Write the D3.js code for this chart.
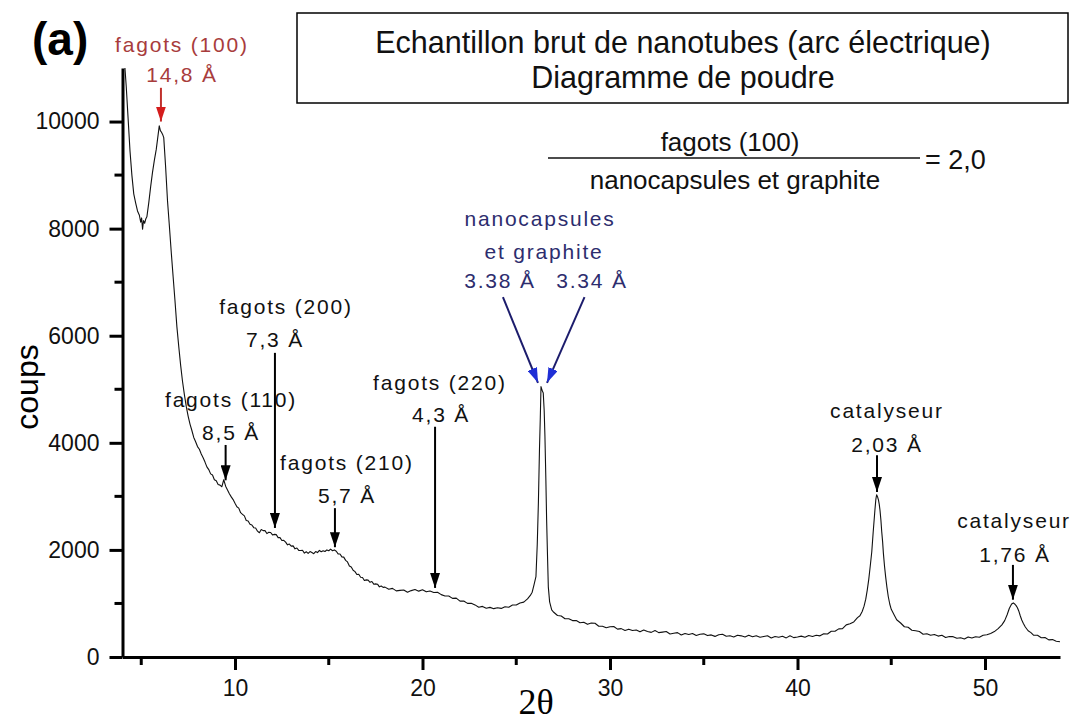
<!DOCTYPE html>
<html>
<head>
<meta charset="utf-8">
<script src="https://cdn.jsdelivr.net/npm/d3@7"></script>
<style>
  body { margin: 0; background: #fff; }
  svg { display: block; }
  text { font-family: "Liberation Sans", Arial, sans-serif; }
</style>
</head>
<body>
<div id="chart"></div>
<script>
// diffractogram (2theta in degrees, counts)
const twoTheta = [
  4.13, 4.2, 4.3, 4.4, 4.5, 4.6, 4.7, 4.8, 4.9, 4.97, 5.02, 5.07, 5.12, 5.18, 5.24, 5.3,
  5.4, 5.5, 5.6, 5.7, 5.8, 5.88, 5.96, 6.02, 6.08, 6.14, 6.2, 6.3, 6.4, 6.5, 6.6, 6.7,
  6.8, 6.9, 7.0, 7.1, 7.2, 7.3, 7.4, 7.5, 7.6, 7.7, 7.8, 7.9, 8.0, 8.1, 8.2, 8.3,
  8.4, 8.5, 8.6, 8.7, 8.8, 8.9, 9.0, 9.1, 9.2, 9.3, 9.4, 9.5, 9.6, 9.7, 9.8, 9.9,
  10.0, 10.1, 10.2, 10.3, 10.4, 10.5, 10.6, 10.7, 10.8, 10.9, 11.0, 11.1, 11.2, 11.3, 11.4, 11.5,
  11.6, 11.7, 11.8, 11.9, 12.0, 12.1, 12.2, 12.3, 12.4, 12.5, 12.6, 12.7, 12.8, 12.9, 13.0, 13.1,
  13.2, 13.3, 13.4, 13.5, 13.6, 13.7, 13.8, 13.9, 14.0, 14.1, 14.2, 14.3, 14.4, 14.5, 14.6, 14.7,
  14.8, 14.9, 15.0, 15.1, 15.2, 15.3, 15.4, 15.5, 15.6, 15.7, 15.8, 15.9, 16.0, 16.1, 16.2, 16.3,
  16.4, 16.5, 16.6, 16.7, 16.8, 16.9, 17.0, 17.1, 17.2, 17.3, 17.4, 17.5, 17.6, 17.7, 17.8, 17.9,
  18.0, 18.2, 18.4, 18.6, 18.8, 19.0, 19.2, 19.4, 19.6, 19.8, 20.0, 20.2, 20.4, 20.6, 20.8, 21.0,
  21.2, 21.4, 21.6, 21.8, 22.0, 22.2, 22.4, 22.6, 22.8, 23.0, 23.2, 23.4, 23.6, 23.8, 24.0, 24.2,
  24.4, 24.6, 24.8, 25.0, 25.2, 25.4, 25.6, 25.75, 25.85, 25.95, 26.05, 26.12, 26.18, 26.24, 26.28, 26.32,
  26.38, 26.44, 26.49, 26.53, 26.58, 26.62, 26.67, 26.71, 26.78, 26.89, 27.0, 27.2, 27.4, 27.6, 27.8, 28.0,
  28.2, 28.4, 28.6, 28.8, 29.0, 29.2, 29.4, 29.6, 29.8, 30.0, 30.2, 30.4, 30.6, 30.8, 31.0, 31.2,
  31.4, 31.6, 31.8, 32.0, 32.2, 32.4, 32.6, 32.8, 33.0, 33.2, 33.4, 33.6, 33.8, 34.0, 34.2, 34.4,
  34.6, 34.8, 35.0, 35.2, 35.4, 35.6, 35.8, 36.0, 36.2, 36.4, 36.6, 36.8, 37.0, 37.2, 37.4, 37.6,
  37.8, 38.0, 38.2, 38.4, 38.6, 38.8, 39.0, 39.2, 39.4, 39.6, 39.8, 40.0, 40.2, 40.4, 40.6, 40.8,
  41.0, 41.2, 41.4, 41.6, 41.8, 42.0, 42.2, 42.4, 42.6, 42.8, 43.0, 43.2, 43.33, 43.45, 43.55, 43.64,
  43.72, 43.8, 43.88, 43.96, 44.04, 44.13, 44.18, 44.22, 44.27, 44.32, 44.36, 44.4, 44.45, 44.49, 44.54, 44.58,
  44.64, 44.7, 44.77, 44.84, 44.92, 45.0, 45.15, 45.29, 45.5, 45.7, 45.9, 46.1, 46.3, 46.5, 46.7, 46.9,
  47.1, 47.3, 47.5, 47.7, 47.9, 48.1, 48.3, 48.5, 48.7, 48.9, 49.1, 49.3, 49.5, 49.7, 49.9, 50.1,
  50.3, 50.5, 50.7, 50.9, 51.05, 51.18, 51.3, 51.42, 51.51, 51.58, 51.66, 51.73, 51.8, 51.88, 51.96, 52.04,
  52.15, 52.3, 52.45, 52.6, 52.8, 53.0, 53.2, 53.4, 53.6, 53.8, 54.0
];
const counts = [
  11000, 10650, 10050, 9450, 9000, 8650, 8480, 8330, 8250, 8120, 8200, 7990, 8150, 8100, 8180, 8220,
  8480, 8780, 9050, 9280, 9480, 9700, 9920, 9830, 9800, 9760, 9700, 9150, 8520, 8050, 7560, 7100,
  6650, 6170, 5800, 5450, 5150, 4900, 4680, 4500, 4350, 4230, 4100, 4020, 3930, 3880, 3790, 3720,
  3640, 3550, 3500, 3420, 3400, 3310, 3290, 3220, 3210, 3180, 3310, 3190, 3120, 3050, 2990, 2940,
  2870, 2805, 2780, 2695, 2665, 2635, 2550, 2540, 2480, 2465, 2415, 2410, 2350, 2320, 2380, 2360,
  2360, 2305, 2330, 2325, 2280, 2290, 2285, 2230, 2230, 2175, 2180, 2145, 2095, 2110, 2070, 2075,
  2020, 2035, 1990, 1990, 1995, 1940, 1965, 1935, 1970, 1950, 1930, 1970, 1950, 1990, 1965, 1985,
  1970, 2000, 1985, 2015, 1985, 2000, 1975, 1925, 1925, 1870, 1865, 1805, 1775, 1700, 1680, 1620,
  1595, 1540, 1545, 1490, 1485, 1430, 1440, 1435, 1395, 1410, 1360, 1365, 1360, 1310, 1325, 1300,
  1305, 1265, 1282, 1235, 1245, 1252, 1208, 1240, 1260, 1230, 1255, 1217, 1232, 1205, 1210, 1165,
  1140, 1140, 1095, 1100, 1043, 1045, 1002, 1005, 973, 930, 945, 912, 927, 903, 920, 908,
  938, 930, 970, 970, 1010, 1025, 1085, 1150, 1210, 1350, 1500, 2100, 2870, 3900, 4430, 5050,
  4980, 4930, 4600, 4120, 3300, 2560, 1850, 1310, 1030, 880, 835, 775, 765, 715, 715, 680,
  680, 640, 650, 610, 635, 630, 575, 575, 545, 565, 570, 520, 530, 495, 520, 495,
  505, 470, 505, 475, 460, 495, 455, 465, 475, 430, 445, 455, 410, 440, 420, 440,
  403, 425, 432, 400, 413, 385, 417, 425, 388, 396, 374, 407, 395, 373, 406, 379,
  397, 370, 383, 396, 355, 384, 368, 387, 357, 397, 362, 373, 390, 368, 402, 383,
  405, 395, 435, 430, 480, 480, 525, 530, 600, 620, 655, 735, 770, 850, 950, 1080,
  1250, 1450, 1700, 1960, 2350, 2750, 2950, 3030, 2990, 2930, 2850, 2740, 2550, 2350, 2150, 1940,
  1700, 1500, 1300, 1130, 990, 890, 790, 695, 635, 565, 555, 500, 490, 475, 425, 435,
  405, 420, 390, 405, 363, 382, 380, 350, 360, 337, 375, 355, 378, 368, 407, 415,
  440, 475, 530, 600, 680, 790, 910, 990, 1010, 990, 960, 920, 860, 770, 690, 630,
  560, 490, 455, 405, 405, 360, 365, 320, 325, 295, 285
];

// axis ticks
const xMajorTicks = [10, 20, 30, 40, 50];
const xMinorTicks = [5, 15, 25, 35, 45];
const yMajorTicks = [0, 2000, 4000, 6000, 8000, 10000];
const yMinorTicks = [1000, 3000, 5000, 7000, 9000];

// peak annotations: arrow from (x, yFrom) to (x2, yTip), labels centred at (lx, ly)
const annotations = [
  { kind: "red", x: 6.05, yFrom: 10630, x2: 6.05, yTip: 10000,
    labels: [["fagots (100)", 7.17, 11300], ["14,8 Å", 7.17, 10740]] },
  { kind: "black", x: 9.5, yFrom: 3960, x2: 9.5, yTip: 3300,
    labels: [["fagots (110)", 9.79, 4670], ["8,5 Å", 9.79, 4050]] },
  { kind: "black", x: 12.13, yFrom: 5680, x2: 12.13, yTip: 2410,
    labels: [["fagots (200)", 12.72, 6410], ["7,3 Å", 12.13, 5790]] },
  { kind: "black", x: 15.33, yFrom: 2780, x2: 15.33, yTip: 2050,
    labels: [["fagots (210)", 15.97, 3490], ["5,7 Å", 15.97, 2880]] },
  { kind: "black", x: 20.67, yFrom: 4300, x2: 20.67, yTip: 1290,
    labels: [["fagots (220)", 20.93, 4990], ["4,3 Å", 20.99, 4390]] },
  { kind: "blue", x: 24.29, yFrom: 6720, x2: 26.16, yTip: 5120,
    labels: [["nanocapsules", 26.27, 8050], ["et graphite", 26.48, 7430], ["3.38 Å", 24.13, 6890]] },
  { kind: "blue", x: 28.64, yFrom: 6720, x2: 26.64, yTip: 5120,
    labels: [["3.34 Å", 29.04, 6890]] },
  { kind: "black", x: 44.24, yFrom: 3770, x2: 44.24, yTip: 3080,
    labels: [["catalyseur", 44.77, 4460], ["2,03 Å", 44.77, 3830]] },
  { kind: "black", x: 51.49, yFrom: 1720, x2: 51.49, yTip: 1070,
    labels: [["catalyseur", 51.55, 2410], ["1,76 Å", 51.6, 1770]] }
];

const titleLines = ["Echantillon brut de nanotubes (arc électrique)", "Diagramme de poudre"];
const ratioTop = "fagots (100)";
const ratioBottom = "nanocapsules et graphite";
const ratioValue = "= 2,0";

const W = 1077, H = 724;
const svg = d3.select('#chart').append('svg')
  .attr('width', W).attr('height', H);

const x = d3.scaleLinear().domain([4, 54]).range([122.5, 1060]);
const y = d3.scaleLinear().domain([0, 11000]).range([657, 68]);

const colors = {
  black: { line: "#000", head: "#000", text: "#111" },
  red:   { line: "#c0302c", head: "#d41c1c", text: "#a83c3c" },
  blue:  { line: "#1c1c6c", head: "#1f2fd6", text: "#2d2d6e" }
};

const defs = svg.append('defs');
Object.keys(colors).forEach(function(k) {
  defs.append('marker')
    .attr('id', 'head-' + k)
    .attr('viewBox', '0 0 15 10')
    .attr('refX', 15).attr('refY', 5)
    .attr('markerWidth', 15).attr('markerHeight', 10)
    .attr('markerUnits', 'userSpaceOnUse')
    .attr('orient', 'auto')
    .append('path')
    .attr('d', 'M0,0L15,5L0,10Z')
    .attr('fill', colors[k].head);
});

// curve
const line = d3.line()
  .x(function(d) { return x(d[0]) })
  .y(function(d) { return y(d[1]) });

svg.append('path')
  .datum(d3.zip(twoTheta, counts))
  .attr('d', line)
  .attr('fill', 'none')
  .attr('stroke', '#111')
  .attr('stroke-width', 1.1)
  .attr('stroke-linejoin', 'round');

// axes
const xAxis = svg.append('g')
  .attr('transform', 'translate(0,' + y(0) + ')')
  .call(d3.axisBottom(x).tickValues(xMajorTicks).tickSize(13).tickSizeOuter(0).tickPadding(10)
    .tickFormat(d3.format('d')));
xAxis.append('g').selectAll('line')
  .data(xMinorTicks).enter().append('line')
  .attr('x1', function(d) { return x(d) }).attr('x2', function(d) { return x(d) })
  .attr('y1', 0).attr('y2', 8);

const yAxis = svg.append('g')
  .attr('transform', 'translate(' + x(4) + ',0)')
  .call(d3.axisLeft(y).tickValues(yMajorTicks).tickSize(13).tickSizeOuter(0).tickPadding(10)
    .tickFormat(d3.format('d')));
yAxis.append('g').selectAll('line')
  .data(yMinorTicks).enter().append('line')
  .attr('x1', 0).attr('x2', -8)
  .attr('y1', function(d) { return y(d) }).attr('y2', function(d) { return y(d) });

svg.selectAll('.domain').attr('stroke', '#000').attr('stroke-width', 3);
xAxis.selectAll('line').attr('stroke', '#000').attr('stroke-width', 3);
yAxis.selectAll('line').attr('stroke', '#000').attr('stroke-width', 3);
svg.selectAll('.tick text')
  .attr('font-family', '"Liberation Sans", Arial, sans-serif')
  .attr('font-size', 23).attr('fill', '#111');

// axis titles
svg.append('text')
  .attr('x', 536).attr('y', 714)
  .attr('text-anchor', 'middle')
  .style('font-family', '"Liberation Serif", "Times New Roman", serif')
  .attr('font-size', 36)
  .text('2θ');

svg.append('text')
  .attr('transform', 'translate(38,387) rotate(-90)')
  .attr('text-anchor', 'middle')
  .attr('font-size', 32)
  .text('coups');

svg.append('text')
  .attr('x', 32).attr('y', 55)
  .attr('font-size', 46).attr('font-weight', 'bold')
  .text('(a)');

// annotations
annotations.forEach(function(a) {
  const c = colors[a.kind];
  svg.append('line')
    .attr('x1', x(a.x)).attr('y1', y(a.yFrom))
    .attr('x2', x(a.x2)).attr('y2', y(a.yTip))
    .attr('stroke', c.line).attr('stroke-width', 2)
    .attr('marker-end', 'url(#head-' + a.kind + ')');
  a.labels.forEach(function(l) {
    svg.append('text')
      .attr('x', x(l[1])).attr('y', y(l[2]))
      .attr('text-anchor', 'middle')
      .attr('font-size', 21)
      .attr('letter-spacing', 1.8)
      .attr('fill', c.text)
      .text(l[0]);
  });
});

// title box
svg.append('rect')
  .attr('x', 297).attr('y', 13).attr('width', 771).attr('height', 90)
  .attr('fill', '#fff').attr('stroke', '#000').attr('stroke-width', 1.5);
svg.selectAll('.title')
  .data(titleLines).enter().append('text')
  .attr('class', 'title')
  .attr('x', 683).attr('y', function(d, i) { return 53 + i * 35 })
  .attr('text-anchor', 'middle')
  .attr('font-size', 30.5)
  .attr('fill', '#111')
  .text(function(d) { return d });

// ratio
svg.append('text').attr('x', 730).attr('y', 151)
  .attr('text-anchor', 'middle').attr('font-size', 26).attr('fill', '#111').text(ratioTop);
svg.append('line').attr('x1', 548).attr('x2', 920).attr('y1', 158).attr('y2', 158)
  .attr('stroke', '#111').attr('stroke-width', 1.5);
svg.append('text').attr('x', 735).attr('y', 189)
  .attr('text-anchor', 'middle').attr('font-size', 26).attr('fill', '#111').text(ratioBottom);
svg.append('text').attr('x', 925).attr('y', 169)
  .attr('font-size', 27).attr('fill', '#111').text(ratioValue);
</script>
</body>
</html>
